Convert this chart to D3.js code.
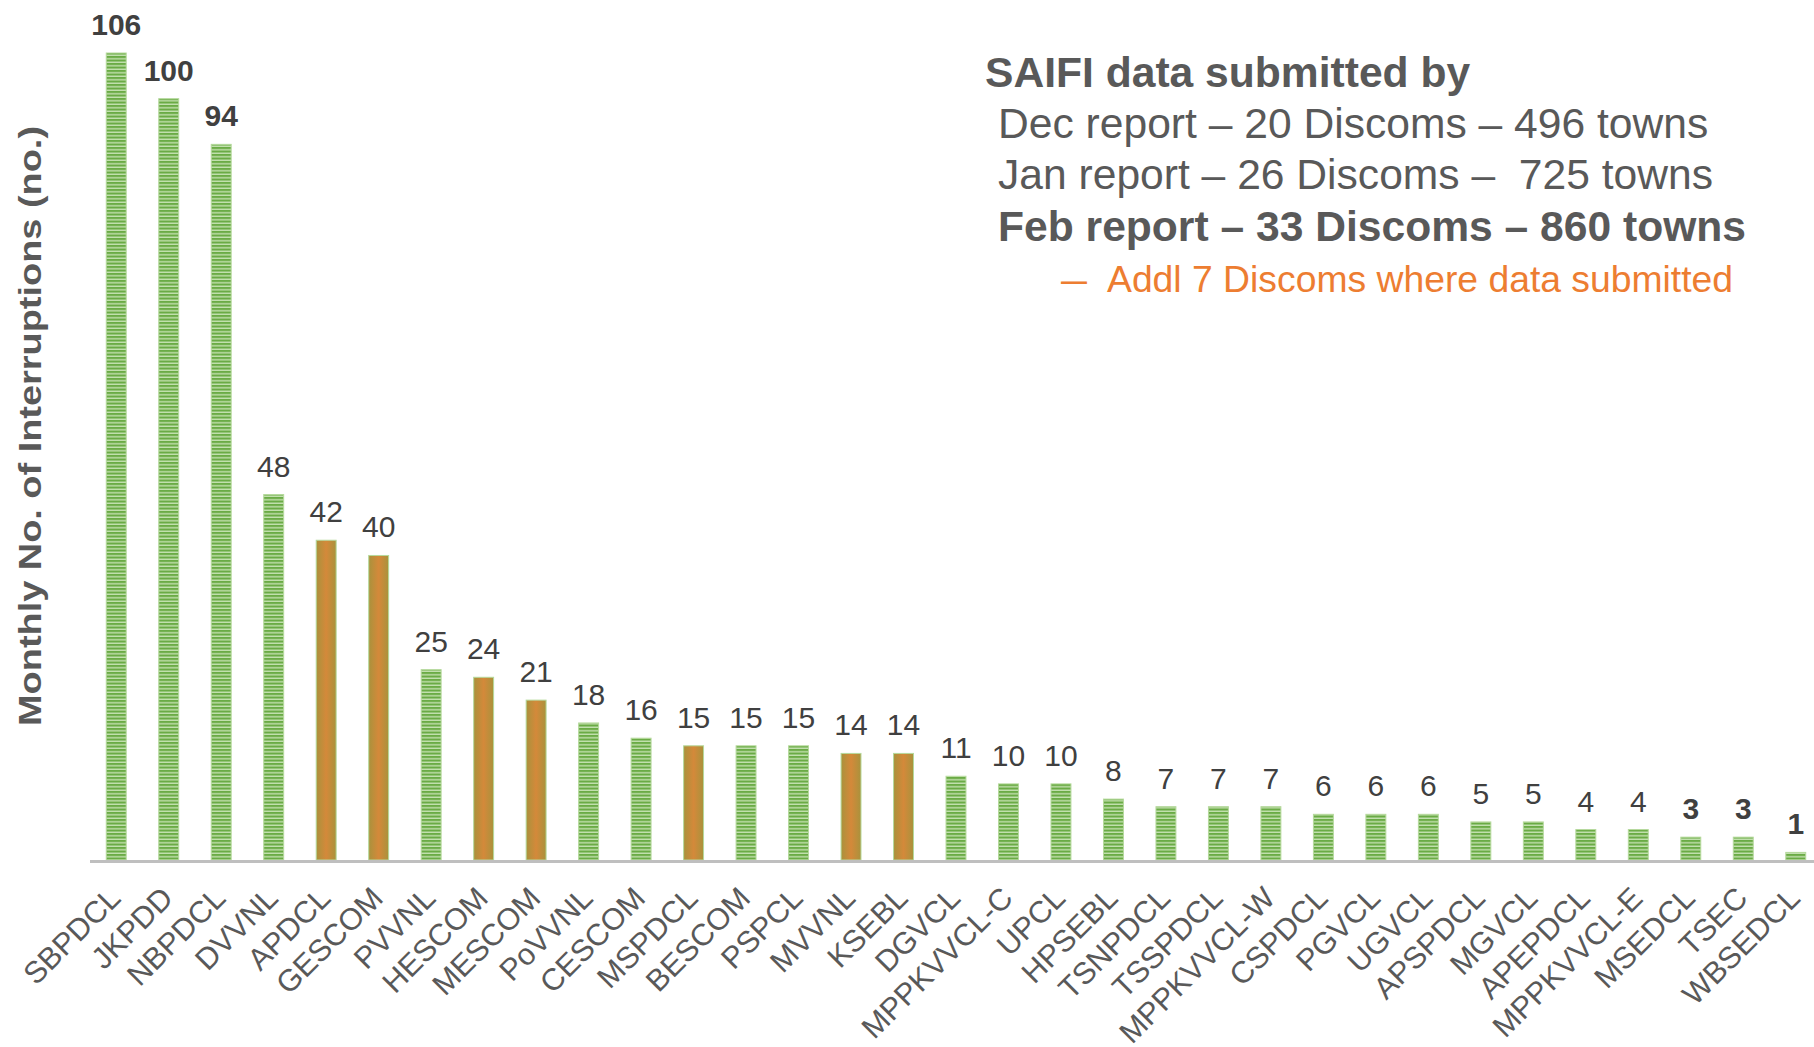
<!DOCTYPE html>
<html>
<head>
<meta charset="utf-8">
<script src="https://cdn.jsdelivr.net/npm/d3@7"></script>
<style>
  body { margin: 0; background: #fff; }
  svg { display: block; font-family: "Liberation Sans", Arial, sans-serif; }
</style>
</head>
<body>
<div id="chart"></div>
<script>
// discoms, Feb report
const discoms = ["SBPDCL","JKPDD","NBPDCL","DVVNL","APDCL","GESCOM","PVVNL","HESCOM","MESCOM","PoVVNL",
  "CESCOM","MSPDCL","BESCOM","PSPCL","MVVNL","KSEBL","DGVCL","MPPKVVCL-C","UPCL","HPSEBL",
  "TSNPDCL","TSSPDCL","MPPKVVCL-W","CSPDCL","PGVCL","UGVCL","APSPDCL","MGVCL","APEPDCL","MPPKVVCL-E",
  "MSEDCL","TSEC","WBSEDCL"];
const interruptions = [106,100,94,48,42,40,25,24,21,18,16,15,15,15,14,14,11,10,10,8,7,7,7,6,6,6,5,5,4,4,3,3,1];
// the 7 discoms added this month
const addlDiscoms = ["APDCL","GESCOM","HESCOM","MESCOM","MSPDCL","MVVNL","KSEBL"];
// labels drawn bold on the slide
const boldLabels = ["SBPDCL","JKPDD","NBPDCL","MSEDCL","TSEC","WBSEDCL"];

const noteLines = [
  "SAIFI data submitted by",
  "Dec report \u2013 20 Discoms \u2013 496 towns",
  "Jan report \u2013 26 Discoms \u2013  725 towns",
  "Feb report \u2013 33 Discoms \u2013 860 towns"
];
const noteAddl = "Addl 7 Discoms where data submitted";

var width = 1814, height = 1047;
var baseY = 860;

var svg = d3.select("#chart").append("svg")
    .attr("width", width)
    .attr("height", height);

var defs = svg.append("defs");
// striped green fill
var pat = defs.append("pattern")
    .attr("id", "stripes")
    .attr("patternUnits", "userSpaceOnUse")
    .attr("width", 40).attr("height", 3.5);
pat.append("rect").attr("width", 40).attr("height", 3.5).attr("fill", "#6aab45");
pat.append("rect").attr("y", 2.1).attr("width", 40).attr("height", 1.4).attr("fill", "#c4e0b0");

var grad = defs.append("linearGradient").attr("id", "orangeFill")
    .attr("x1", "0").attr("x2", "1").attr("y1", "0").attr("y2", "0");
grad.append("stop").attr("offset", "0%").attr("stop-color", "#a9923c");
grad.append("stop").attr("offset", "50%").attr("stop-color", "#d4893a");
grad.append("stop").attr("offset", "100%").attr("stop-color", "#a9923c");

var x = d3.scaleBand()
    .domain(discoms)
    .range([90, 1822])
    .paddingInner(0.62)
    .paddingOuter(0.31);

var y = d3.scaleLinear()
    .domain([0, 106])
    .range([baseY, 53]);

var data = discoms.map((d, i) => ({name: d, value: interruptions[i]}));

svg.selectAll("rect.bar")
  .data(data)
  .enter()
  .append("rect")
    .attr("class", "bar")
    .attr("x", d => x(d.name))
    .attr("y", d => y(d.value))
    .attr("width", x.bandwidth())
    .attr("height", d => baseY - y(d.value))
    .attr("fill", d => addlDiscoms.includes(d.name) ? "url(#orangeFill)" : "url(#stripes)")
    .attr("stroke", "#b5d99c")
    .attr("stroke-width", 1);

// axis line
svg.append("line")
    .attr("x1", 90).attr("x2", width)
    .attr("y1", baseY + 1.5).attr("y2", baseY + 1.5)
    .attr("stroke", "#bfbfbf")
    .attr("stroke-width", 3);

// value labels
svg.selectAll("text.val")
  .data(data)
  .enter()
  .append("text")
    .attr("class", "val")
    .attr("x", d => x(d.name) + x.bandwidth() / 2)
    .attr("y", d => y(d.value) - 18)
    .attr("text-anchor", "middle")
    .attr("font-size", 30)
    .attr("font-weight", d => boldLabels.includes(d.name) ? "bold" : "normal")
    .attr("fill", "#404040")
    .text(d => d.value);

// category labels
svg.selectAll("text.cat")
  .data(discoms)
  .enter()
  .append("text")
    .attr("class", "cat")
    .attr("transform", d => "translate(" + (x(d) + x.bandwidth() / 2 + 6) + "," + 900 + ") rotate(-45)")
    .attr("text-anchor", "end")
    .attr("font-size", 30.5)
    .attr("fill", "#595959")
    .text(d => d);

// y title
svg.append("text")
    .attr("transform", "translate(41,426) rotate(-90)")
    .attr("text-anchor", "middle")
    .attr("font-size", 32)
    .attr("font-weight", "bold")
    .attr("fill", "#595959")
    .attr("textLength", 600)
    .attr("lengthAdjust", "spacingAndGlyphs")
    .text("Monthly No. of Interruptions (no.)");

// note block
var noteX = [985, 998, 998, 998];
var noteY = [87, 138, 189, 241];
var noteBold = [true, false, false, true];
svg.selectAll("text.note")
  .data(noteLines)
  .enter()
  .append("text")
    .attr("class", "note")
    .attr("x", (d, i) => noteX[i])
    .attr("y", (d, i) => noteY[i])
    .attr("font-size", 42.6)
    .attr("font-weight", (d, i) => noteBold[i] ? "bold" : "normal")
    .attr("fill", "#595959")
    .style("white-space", "pre")
    .text(d => d);

svg.append("text")
    .attr("x", 1061).attr("y", 292)
    .attr("font-size", 37)
    .attr("fill", "#ed7d31")
    .attr("textLength", 26)
    .attr("lengthAdjust", "spacingAndGlyphs")
    .text("\u2013");
svg.append("text")
    .attr("x", 1107).attr("y", 292)
    .attr("font-size", 37.3)
    .attr("fill", "#ed7d31")
    .text(noteAddl);
</script>
</body>
</html>
